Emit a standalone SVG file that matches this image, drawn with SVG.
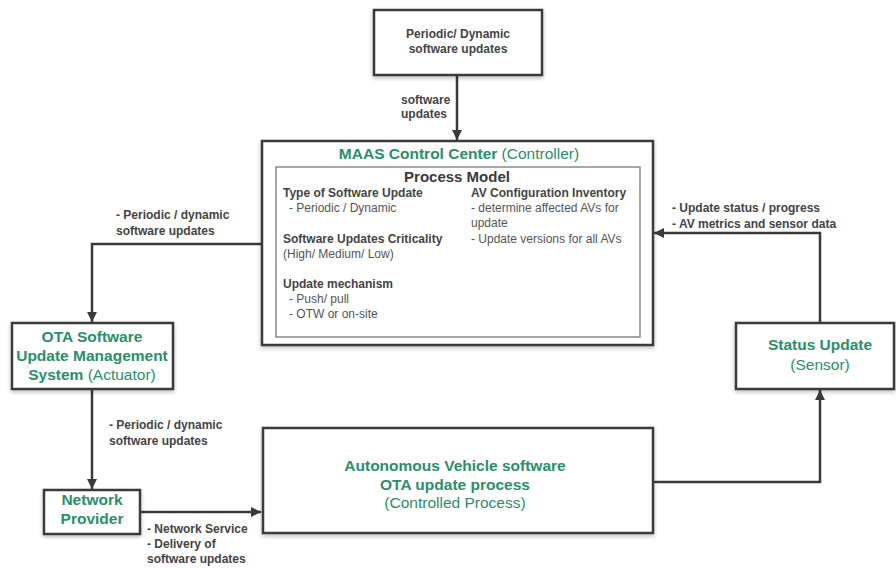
<svg xmlns="http://www.w3.org/2000/svg" width="896" height="568" viewBox="0 0 896 568">
  <defs>
    <marker id="arrow" viewBox="0 0 10 10" refX="10" refY="5" markerWidth="4" markerHeight="4" orient="auto" markerUnits="strokeWidth">
      <path d="M0,0 L10,5 L0,10 z" fill="#3a3a3a"/>
    </marker>
    <filter id="shadow" x="-5%" y="-5%" width="110%" height="115%">
      <feDropShadow dx="0" dy="2" stdDeviation="2" flood-color="#000" flood-opacity="0.25"/>
    </filter>
  </defs>
  <style>
    .box { fill: #ffffff; stroke: #3a3a3a; stroke-width: 2.5; filter: url(#shadow); }
    .inner { fill: #ffffff; stroke: #8a8a8a; stroke-width: 1.5; }
    .edge { fill: none; stroke: #3a3a3a; stroke-width: 2.5; marker-end: url(#arrow); }
    text { font-family: "Liberation Sans", Arial, sans-serif; }
    .title { font-size: 15.5px; font-weight: bold; fill: #2a8f6a; text-anchor: middle; }
    .sub { font-size: 15.5px; fill: #2a8f6a; text-anchor: middle; }
    .lbl { font-size: 12px; font-weight: bold; fill: #444444; }
    .pm { font-size: 15px; font-weight: bold; fill: #3a3a3a; text-anchor: middle; }
    .hd { font-size: 12px; font-weight: bold; fill: #444444; }
    .it { font-size: 12px; fill: #555555; }
  </style>
  <rect width="896" height="568" fill="#ffffff"/>

  <!-- connectors -->
  <g id="connectors">
    <path class="edge" d="M457,75 V140"/>
    <path class="edge" d="M262,244 H92 V322"/>
    <path class="edge" d="M92,389 V489"/>
    <path class="edge" d="M140,512 H261"/>
    <path class="edge" d="M653,482 H820 V390"/>
    <path class="edge" d="M820,323 V233 H654"/>
    <text class="lbl" x="401" y="104">software</text>
    <text class="lbl" x="401" y="118">updates</text>
    <text class="lbl" x="116" y="219">- Periodic / dynamic</text>
    <text class="lbl" x="116" y="235">software updates</text>
    <text class="lbl" x="672" y="212">- Update status / progress</text>
    <text class="lbl" x="672" y="228">- AV metrics and sensor data</text>
    <text class="lbl" x="109" y="429">- Periodic / dynamic</text>
    <text class="lbl" x="109" y="445">software updates</text>
    <text class="lbl" x="147" y="533">- Network Service</text>
    <text class="lbl" x="147" y="548">- Delivery of</text>
    <text class="lbl" x="147" y="563">software updates</text>
  </g>

  <!-- source of updates -->
  <g id="periodic">
    <rect class="box" x="374" y="10" width="168" height="65"/>
    <text class="lbl" x="458" y="38" text-anchor="middle">Periodic/ Dynamic</text>
    <text class="lbl" x="458" y="53" text-anchor="middle">software updates</text>
  </g>

  <!-- controller with process model -->
  <g id="maas">
    <rect class="box" x="262" y="141" width="391" height="204"/>
    <text x="459" y="159" class="title">MAAS Control Center <tspan font-weight="normal">(Controller)</tspan></text>
    <rect class="inner" x="276" y="167" width="364" height="170"/>
    <text class="pm" x="457" y="182">Process Model</text>
    <text class="hd" x="283" y="197">Type of Software Update</text>
    <text class="it" x="289" y="212">- Periodic / Dynamic</text>
    <text class="hd" x="283" y="243">Software Updates Criticality</text>
    <text class="it" x="283" y="258">(High/ Medium/ Low)</text>
    <text class="hd" x="283" y="288">Update mechanism</text>
    <text class="it" x="289" y="303">- Push/ pull</text>
    <text class="it" x="289" y="318">- OTW or on-site</text>
    <text class="hd" x="471" y="197">AV Configuration Inventory</text>
    <text class="it" x="471" y="212">- determine affected AVs for</text>
    <text class="it" x="471" y="227">update</text>
    <text class="it" x="471" y="243">- Update versions for all AVs</text>
  </g>

  <!-- actuator -->
  <g id="ota">
    <rect class="box" x="12" y="323" width="161" height="66"/>
    <text class="title" x="92" y="342">OTA Software</text>
    <text class="title" x="92" y="361">Update Management</text>
    <text class="title" x="92" y="380">System <tspan font-weight="normal">(Actuator)</tspan></text>
  </g>

  <!-- network provider -->
  <g id="network">
    <rect class="box" x="44" y="490" width="96" height="44"/>
    <text class="title" x="92" y="505">Network</text>
    <text class="title" x="92" y="524">Provider</text>
  </g>

  <!-- controlled process -->
  <g id="av">
    <rect class="box" x="263" y="428" width="390" height="105"/>
    <text class="title" x="455" y="471">Autonomous Vehicle software</text>
    <text class="title" x="455" y="490">OTA update process</text>
    <text class="sub" x="455" y="508">(Controlled Process)</text>
  </g>

  <!-- sensor -->
  <g id="status">
    <rect class="box" x="736" y="323" width="158" height="66"/>
    <text class="title" x="820" y="350">Status Update</text>
    <text class="sub" x="820" y="370">(Sensor)</text>
  </g>
</svg>
